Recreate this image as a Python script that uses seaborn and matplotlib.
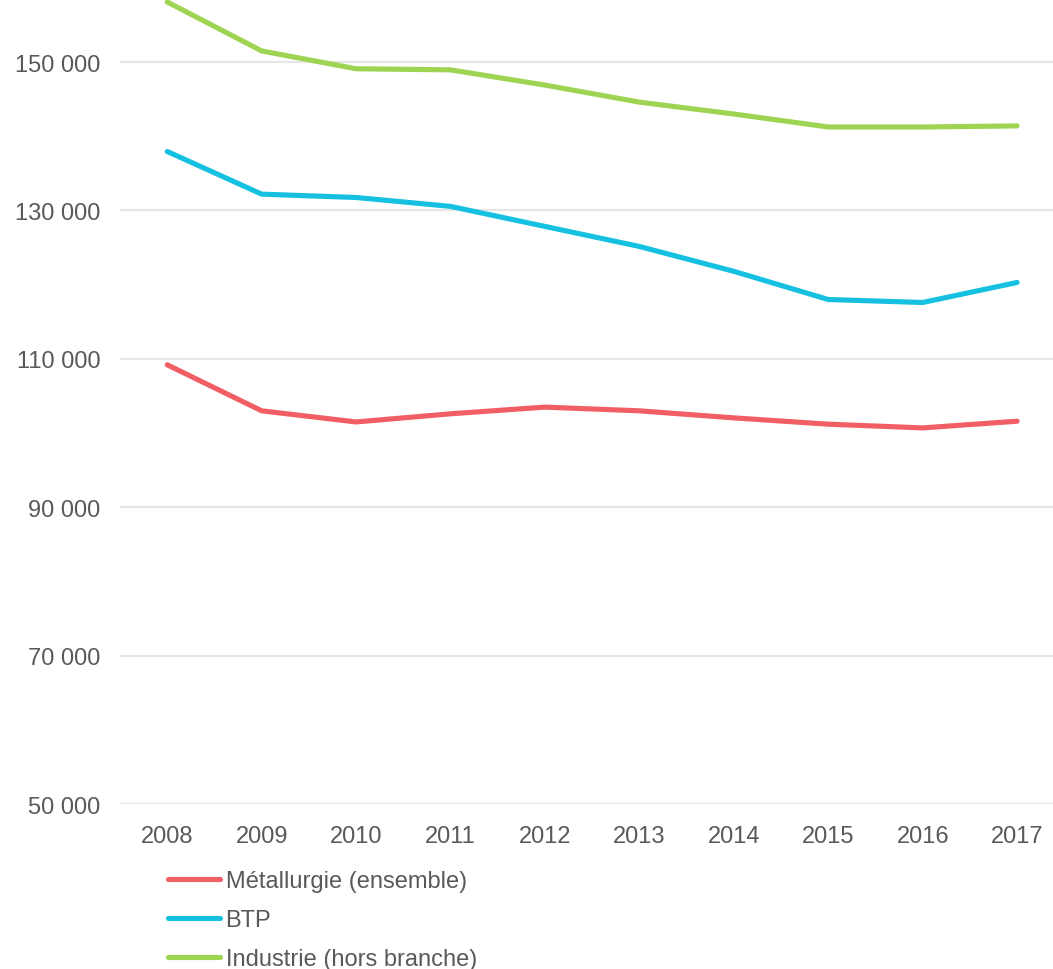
import matplotlib
matplotlib.use("Agg")
import matplotlib.pyplot as plt
import pandas as pd
import seaborn as sns

# ------------------------------------------------------------------------------
# Data
# ------------------------------------------------------------------------------

years = [2008, 2009, 2010, 2011, 2012, 2013, 2014, 2015, 2016, 2017]

metallurgie = [109200, 103000, 101500, 102600, 103500, 103000, 102050, 101200, 100700, 101600]
btp = [137950, 132200, 131750, 130550, 127850, 125150, 121800, 118000, 117600, 120300]
industrie = [158100, 151500, 149100, 148950, 146900, 144600, 143000, 141250, 141250, 141400]

series_names = ["Métallurgie (ensemble)", "BTP", "Industrie (hors branche)"]
series_colors = ["#F15E64", "#15C0E0", "#9ED451"]

y_ticks = [50000, 70000, 90000, 110000, 130000, 150000]

# ------------------------------------------------------------------------------
# Plot
# ------------------------------------------------------------------------------

df = pd.DataFrame({
    "x": list(range(len(years))) * 3,
    "value": metallurgie + btp + industrie,
    "serie": [n for n in series_names for _ in years],
})

sns.set_style("white")
plt.rcParams["font.family"] = ["Liberation Sans", "DejaVu Sans"]

fig = plt.figure(figsize=(10.53, 9.70), dpi=100)
ax = fig.add_axes([0.114, 0.170, 0.886, 0.830])

sns.lineplot(
    data=df,
    x="x",
    y="value",
    hue="serie",
    hue_order=series_names,
    palette=series_colors,
    linewidth=3.7,
    ax=ax,
    legend=False,
)
for line in ax.lines:
    line.set_solid_capstyle("round")
    line.set_solid_joinstyle("round")

ax.set_xlim(-0.5, 9.38)
ax.set_ylim(50000, 158500)
ax.set_yticks(y_ticks)
ax.set_yticklabels([f"{v:,}".replace(",", " ") for v in y_ticks])
ax.set_xticks(range(len(years)))
ax.set_xticklabels([str(y) for y in years])

ax.grid(axis="y", color="#E6E6E6", linewidth=1.6)
ax.set_axisbelow(True)
for spine in ax.spines.values():
    spine.set_visible(False)
ax.tick_params(axis="both", length=0, labelsize=17, labelcolor="#595959")
ax.tick_params(axis="y", pad=14)
ax.tick_params(axis="x", pad=15)
ax.set_xlabel("")
ax.set_ylabel("")

handles = [
    plt.Line2D([0], [0], color=c, linewidth=3.7, solid_capstyle="round")
    for c in series_colors
]
fig.legend(
    handles,
    series_names,
    loc="upper left",
    bbox_to_anchor=(0.160, 0.102),
    frameon=False,
    fontsize=17,
    labelcolor="#595959",
    handlelength=2.2,
    handletextpad=0.22,
    labelspacing=0.72,
    borderpad=0,
    borderaxespad=0,
)

fig.savefig("out.png", dpi=100)
